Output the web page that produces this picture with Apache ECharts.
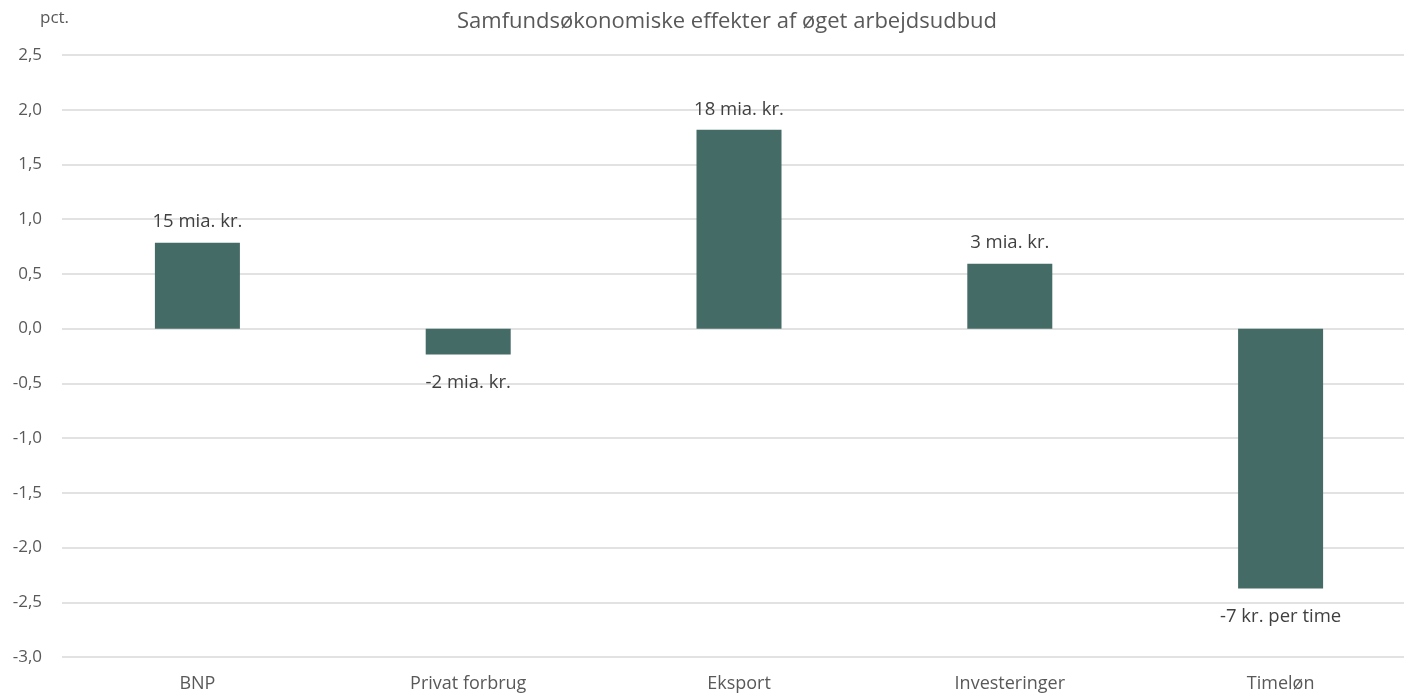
<!DOCTYPE html>
<html><head><meta charset="utf-8">
<script src="https://cdn.jsdelivr.net/npm/echarts@6/dist/echarts.min.js"></script>
<style>html,body{margin:0;padding:0;background:#fff}#c{width:1404px;height:693px}</style>
</head><body><div id="c"></div>
<script>
const categories = ['BNP', 'Privat forbrug', 'Eksport', 'Investeringer', 'Timeløn'];
const values = [0.785, -0.237, 1.816, 0.593, -2.375];
const barLabels = ['15 mia. kr.', '-2 mia. kr.', '18 mia. kr.', '3 mia. kr.', '-7 kr. per time'];
const yTicks = { min: -3.0, max: 2.5, interval: 0.5 };

const font = '"Open Sans", "Noto Sans", sans-serif';
const chart = echarts.init(document.getElementById('c'));
chart.setOption({
  animation: false,
  title: [
    { text: 'Samfundsøkonomiske effekter af øget arbejdsudbud', left: 452, top: 6,
      textStyle: { fontFamily: font, fontSize: 22, fontWeight: 'normal', color: '#595959' } },
    { text: 'pct.', left: 35, top: 5,
      textStyle: { fontFamily: font, fontSize: 17, fontWeight: 'normal', color: '#595959' } }
  ],
  grid: { left: 62, right: -12, top: 55, bottom: 36, containLabel: false, outerBoundsMode: 'none' },
  xAxis: {
    type: 'category', data: categories,
    axisLine: { show: false }, axisTick: { show: false },
    axisLabel: { fontFamily: font, fontSize: 18, color: '#595959', margin: 18 },
    position: 'bottom'
  },
  yAxis: {
    type: 'value', min: yTicks.min, max: yTicks.max, interval: yTicks.interval,
    axisLine: { show: false }, axisTick: { show: false },
    splitLine: { lineStyle: { color: '#d9d9d9', width: 1.5 } },
    axisLabel: { fontFamily: font, fontSize: 17, color: '#595959', margin: 20,
      formatter: v => v.toFixed(1).replace('.', ',') }
  },
  series: [{
    type: 'bar', barWidth: 85,
    itemStyle: { color: '#456B67' },
    data: values.map((v, i) => ({
      value: v,
      label: { show: true, position: v >= 0 ? 'top' : 'bottom', distance: v >= 0 ? 11 : 19,
        formatter: barLabels[i], fontFamily: font, fontSize: 18.5, color: '#404040' }
    }))
  }]
});
</script></body></html>
